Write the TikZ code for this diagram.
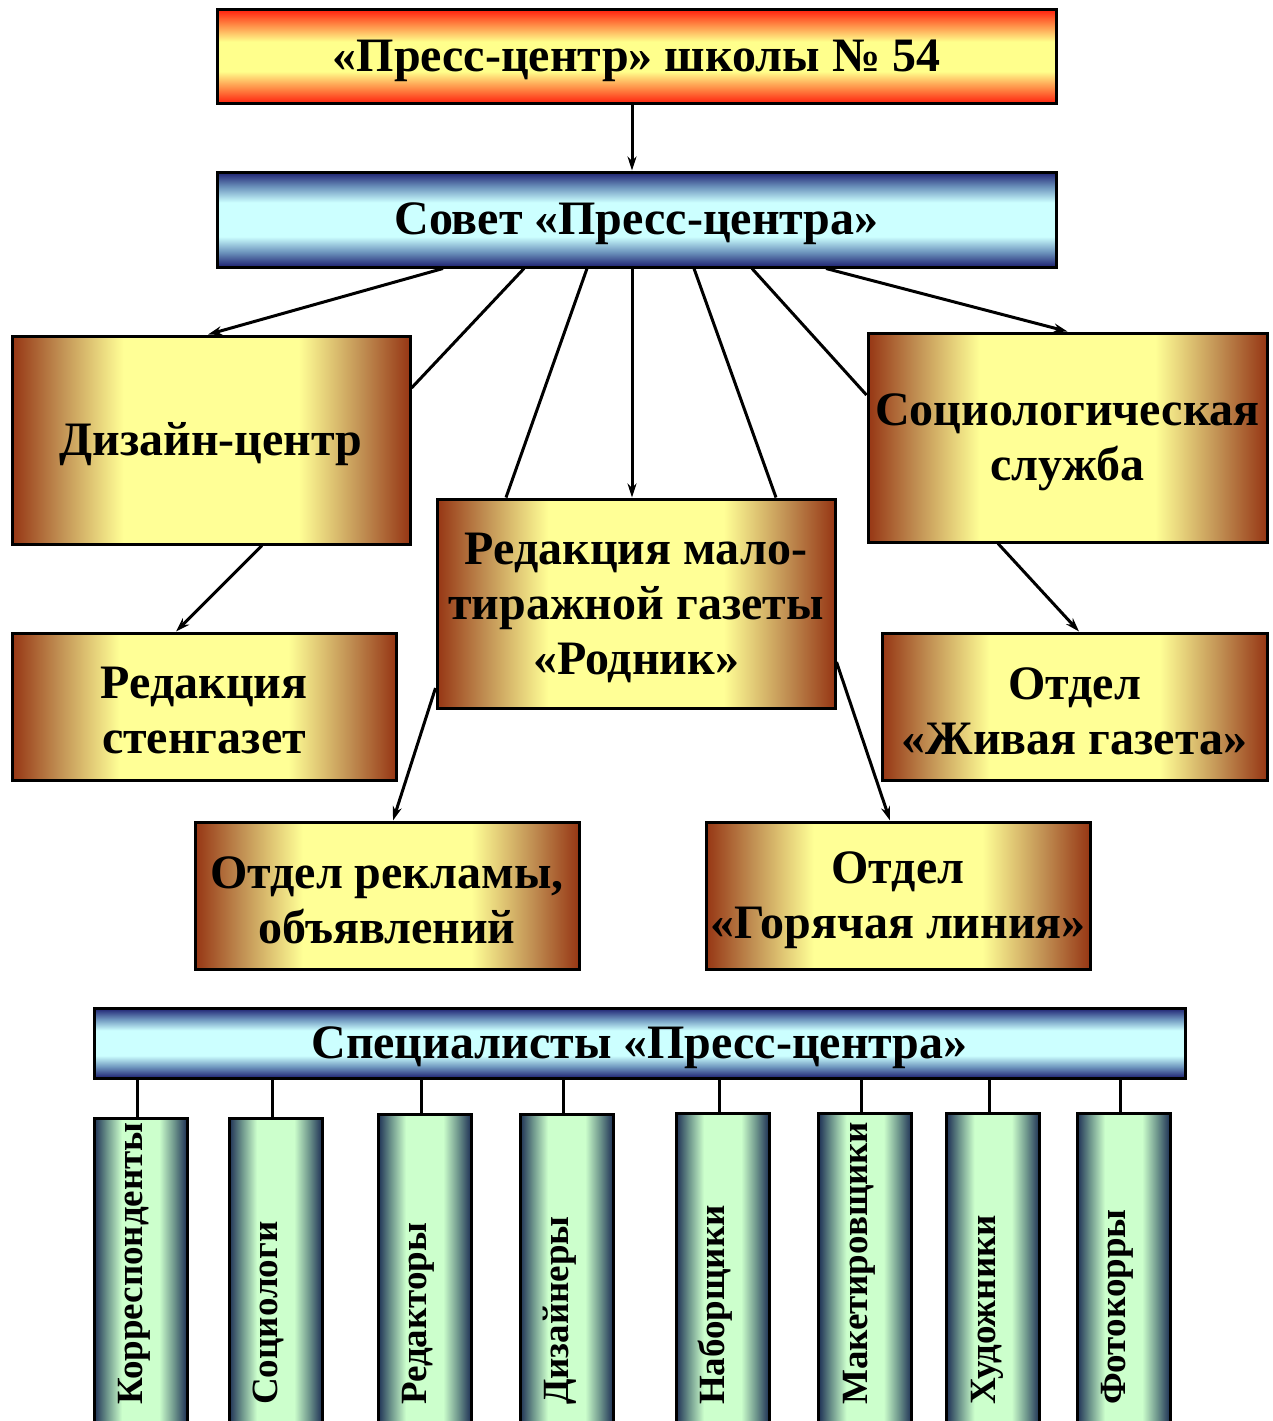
\documentclass[tikz,border=0pt]{standalone}
\usepackage{fontspec}
\setmainfont{Liberation Serif}
\usetikzlibrary{arrows.meta}
\definecolor{brE}{RGB}{150,54,20}
\definecolor{brM}{RGB}{192,142,82}
\definecolor{yelB}{RGB}{255,255,150}
\definecolor{navyE}{RGB}{28,30,112}
\definecolor{navyM}{RGB}{110,150,190}
\definecolor{cyanL}{RGB}{204,255,255}
\definecolor{redE}{RGB}{255,35,15}
\definecolor{redM}{RGB}{255,140,70}
\definecolor{yelR}{RGB}{255,255,140}
\definecolor{gnE}{RGB}{30,48,85}
\definecolor{gnM}{RGB}{110,150,140}
\definecolor{gnL}{RGB}{204,255,204}
\pgfdeclarehorizontalshading{brownsh}{100bp}{color(0bp)=(brE); color(25bp)=(brE); color(31bp)=(brM); color(39bp)=(yelB); color(61bp)=(yelB); color(69bp)=(brM); color(75bp)=(brE); color(100bp)=(brE)}
\pgfdeclareverticalshading{bluesh}{100bp}{color(0bp)=(navyE); color(25bp)=(navyE); color(33bp)=(navyM); color(41bp)=(cyanL); color(59bp)=(cyanL); color(67bp)=(navyM); color(75bp)=(navyE); color(100bp)=(navyE)}
\pgfdeclareverticalshading{redsh}{100bp}{color(0bp)=(redE); color(25bp)=(redE); color(33bp)=(redM); color(42bp)=(yelR); color(58bp)=(yelR); color(67bp)=(redM); color(75bp)=(redE); color(100bp)=(redE)}
\pgfdeclarehorizontalshading{greensh}{100bp}{color(0bp)=(gnE); color(25bp)=(gnE); color(32bp)=(gnM); color(40bp)=(gnL); color(60bp)=(gnL); color(68bp)=(gnM); color(75bp)=(gnE); color(100bp)=(gnE)}
\tikzset{
  box/.style={draw=black, line width=3pt, inner sep=0pt},
  lbl/.style={align=center, inner sep=0pt, yshift=-4.5pt,
    font=\bfseries\fontsize{48}{55}\selectfont},
  brownbox/.style={box, shading=brownsh},
  bluebox/.style={box, shading=bluesh},
  redbox/.style={box, shading=redsh},
  vbox/.style={draw=black, line width=3pt, shading=greensh, inner sep=0pt,
    minimum width=93pt, minimum height=312pt, anchor=north},
  vtext/.style={font=\bfseries\fontsize{37}{40}\selectfont, rotate=90,
    anchor=mid west, inner sep=0pt},
  conn/.style={line width=3pt},
  arr/.style={conn, -{Stealth[length=14pt,width=9pt]}},
}
\begin{document}
\begin{tikzpicture}[x=1pt,y=-1pt]
\useasboundingbox (0,0) rectangle (1272,1421);
% main boxes
\node[redbox, minimum width=839pt, minimum height=93pt, label={[lbl]center:{«Пресс-центр» школы № 54}}] (top) at (636.5,56.5) {};
\node[bluebox, minimum width=839pt, minimum height=95pt, label={[lbl]center:{Совет «Пресс-центра»}}] (sovet) at (636.5,219.5) {};
\node[brownbox, minimum width=398pt, minimum height=208pt, label={[lbl]center:{Дизайн-центр}}] (design) at (211,440) {};
\node[brownbox, minimum width=399pt, minimum height=209pt, label={[lbl]center:{Социологическая\\служба}}] (social) at (1067.5,437.5) {};
\node[brownbox, minimum width=398pt, minimum height=209pt, label={[lbl]center:{Редакция мало-\\тиражной газеты\\«Родник»}}] (rodnik) at (636,603.5) {};
\node[brownbox, minimum width=384pt, minimum height=147pt, label={[lbl]center:{Редакция\\стенгазет}}] (sten) at (204,706.5) {};
\node[brownbox, minimum width=385pt, minimum height=147pt, label={[lbl]center:{Отдел\\«Живая газета»}}] (zhiv) at (1074.5,706.5) {};
\node[brownbox, minimum width=384pt, minimum height=147pt, label={[lbl]center:{Отдел рекламы,\\объявлений}}] (reklama) at (387,895.5) {};
\node[brownbox, minimum width=384pt, minimum height=147pt, label={[lbl]center:{Отдел\\«Горячая линия»}}] (hot) at (898,895.5) {};
\node[bluebox, minimum width=1091pt, minimum height=70pt, label={[lbl]center:{Специалисты «Пресс-центра»}}] (spec) at (639.5,1043) {};
% connectors
\draw[arr] ([xshift=-4.5pt]top.south) -- ([xshift=-4.5pt]sovet.north);
\draw[arr] ([xshift=-193.5pt]sovet.south) -- ([xshift=-3pt]design.north);
\draw[conn] ([xshift=-112.5pt]sovet.south) -- ([yshift=52pt]design.east);
\draw[conn] ([xshift=-49.5pt]sovet.south) -- ([xshift=-130pt]rodnik.north);
\draw[arr] ([xshift=-4.5pt]sovet.south) -- ([xshift=-4pt]rodnik.north);
\draw[conn] ([xshift=57.5pt]sovet.south) -- ([xshift=140pt]rodnik.north);
\draw[conn] ([xshift=115.5pt]sovet.south) -- ([yshift=42.5pt]social.west);
\draw[arr] ([xshift=189.5pt]sovet.south) -- (social.north);
\draw[arr] ([xshift=51pt]design.south) -- ([xshift=-28pt]sten.north);
\draw[arr] ([xshift=-69.5pt]social.south) -- ([xshift=4.5pt]zhiv.north);
\draw[arr] ([yshift=-84.5pt]rodnik.west) -- ([xshift=6pt]reklama.north);
\draw[arr] ([yshift=-58.5pt]rodnik.east) -- ([xshift=-8pt]hot.north);
% specialists
\node[vbox] (v1) at (140.5,1117) {};
\node[vbox] (v2) at (275.5,1117) {};
\node[vbox] (v3) at (424.5,1113) {};
\node[vbox] (v4) at (566.5,1113) {};
\node[vbox] (v5) at (722.5,1112) {};
\node[vbox] (v6) at (865,1112) {};
\node[vbox] (v7) at (993,1112) {};
\node[vbox] (v8) at (1123.5,1112) {};
\foreach \i in {1,...,8}{
  \draw[conn] ([xshift=-3.5pt]v\i.north) -- ([xshift=-3.5pt]v\i.north |- spec.south);
}
\node[vtext] (t1) at (140.5,1405) {Корреспонденты};
\node[vtext] (t2) at (275.5,1405) {Социологи};
\node[vtext] (t3) at (424.5,1405) {Редакторы};
\node[vtext] (t4) at (566.5,1405) {Дизайнеры};
\node[vtext] (t5) at (722.5,1405) {Наборщики};
\node[vtext] (t6) at (865,1405) {Макетировщики};
\node[vtext] (t7) at (993,1405) {Художники};
\node[vtext] (t8) at (1123.5,1405) {Фотокорры};
\end{tikzpicture}
\end{document}
